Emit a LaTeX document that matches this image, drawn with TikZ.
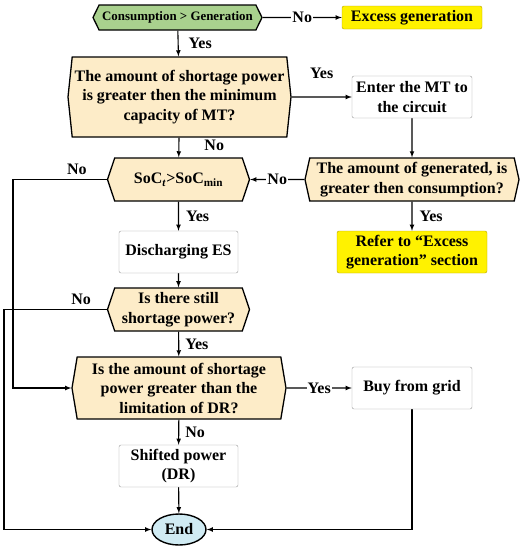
\documentclass[tikz,border=0pt]{standalone}
\usepackage{fontspec}
\setmainfont{Liberation Serif}
\usepackage{tikz}
\usetikzlibrary{arrows}
\usetikzlibrary{backgrounds,calc}
\usetikzlibrary{shapes,shapes.geometric,shapes.symbols,shapes.misc}
\pgfdeclarelayer{edgelayer}
\pgfdeclarelayer{nodelayer}
\pgfsetlayers{background,edgelayer,nodelayer,main}
\definecolor{startgreen}{RGB}{169,209,142}
\definecolor{decbeige}{RGB}{253,236,200}
\definecolor{endblue}{RGB}{208,235,243}
\definecolor{hlborder}{RGB}{180,160,0}
\tikzstyle{none}=[inner sep=0mm]
\tikzstyle{every picture}=[x=1pt,y=-1pt]
\tikzstyle{txt}=[font=\bfseries\fontsize{16}{19.5}\selectfont]
\tikzstyle{dec}=[txt,shape=signal,signal to=east and west,draw=black,line width=1.3pt,fill=decbeige,align=center,inner sep=1pt]
\tikzstyle{box}=[txt,shape=rectangle,rounded corners=2pt,draw=black!40,fill=white,align=center,minimum width=120pt,minimum height=42pt,inner sep=1pt]
\tikzstyle{hlbox}=[box,fill=yellow,draw=hlborder]
\tikzstyle{term}=[txt,shape=ellipse,draw=black,line width=1.4pt,fill=endblue,minimum width=54pt,minimum height=31pt,inner sep=0pt]
\tikzstyle{lbl}=[txt,inner sep=1pt]
\tikzstyle{onl}=[lbl,fill=white]
\tikzstyle{flow}=[->,>=latex,line width=1.1pt]

\begin{document}
\begin{tikzpicture}
	\useasboundingbox (0,0) rectangle (527,550);
	\begin{pgfonlayer}{nodelayer}
		\node [style=dec,fill=startgreen,signal pointer angle=128,minimum width=169pt,minimum height=25pt,font=\bfseries\fontsize{12.9}{15}\selectfont] (start) at (177.5, 17.5) {Consumption > Generation};
		\node [style=hlbox,minimum width=140pt,minimum height=23pt] (excess) at (412, 17.5) {Excess generation};
		\node [style=dec,signal pointer angle=168,minimum width=223pt,minimum height=80pt] (mtcap) at (179.5, 97) {The amount of shortage power\\is greater then the minimum\\capacity of MT?};
		\node [style=box] (entermt) at (412, 97) {Enter the MT to\\the circuit};
		\node [style=dec,signal pointer angle=155,minimum width=214pt,minimum height=43pt] (genmore) at (412, 179.5) {The amount of generated, is\\greater then consumption?};
		\node [style=dec,signal pointer angle=143,minimum width=142pt,minimum height=43pt] (soc) at (178.5, 179.5) {SoC\textsubscript{\textit{t}}>SoC\textsubscript{min}};
		\node [style=hlbox,minimum width=150pt] (refer) at (412, 252) {Refer to “Excess\\generation” section};
		\node [style=box,minimum width=119pt] (discharge) at (178.5, 252) {Discharging ES};
		\node [style=dec,signal pointer angle=143,minimum width=142pt,minimum height=43pt] (still) at (178.5, 309.5) {Is there still\\shortage power?};
		\node [style=dec,signal pointer angle=161,minimum width=214pt,minimum height=62pt] (drlim) at (179, 388) {Is the amount of shortage\\power greater than the\\limitation of DR?};
		\node [style=box] (grid) at (412, 388) {Buy from grid};
		\node [style=box,minimum width=119pt] (shifted) at (178.5, 466) {Shifted power\\(DR)};
		\node [style=term] (end) at (179, 529.5) {End};
		\coordinate (leftA) at (13, 0);
		\coordinate (leftB) at (4, 0);
	\end{pgfonlayer}
	\begin{pgfonlayer}{edgelayer}
		\draw [style=flow] (start) to node [style=onl] {No} (excess);
		\draw [style=flow] (start) to node [style=lbl,right=9pt] {Yes} (mtcap);
		\draw [style=flow] (mtcap) to node [style=lbl,above=17pt,pos=0.5] {Yes} (entermt);
		\draw [style=flow] (entermt) to (genmore);
		\draw [style=flow] (mtcap) to node [style=lbl,right=24pt,pos=0.4] {No} (soc);
		\draw [style=flow] (genmore) to node [style=onl] {No} (soc);
		\draw [style=flow] (soc.west) to node [style=lbl,above=3pt,pos=0.32] {No} (soc.west -| leftA) |- (drlim.west);
		\draw [style=flow] (genmore) to node [style=lbl,right=6pt] {Yes} (refer);
		\draw [style=flow] (soc) to node [style=lbl,right=6pt] {Yes} (discharge);
		\draw [style=flow] (discharge) to (still);
		\draw [style=flow] (still.west) to node [style=lbl,above=3pt,pos=0.25] {No} (still.west -| leftB) |- (end.west);
		\draw [style=flow] (still) to node [style=lbl,right=5pt] {Yes} (drlim);
		\draw [style=flow] (drlim) to node [style=onl] {Yes} (grid);
		\draw [style=flow] (drlim) to node [style=lbl,right=5pt] {No} (shifted);
		\draw [style=flow] (shifted) to (end);
		\draw [style=flow] (grid.south) |- (end.east);
	\end{pgfonlayer}
\end{tikzpicture}
\end{document}
